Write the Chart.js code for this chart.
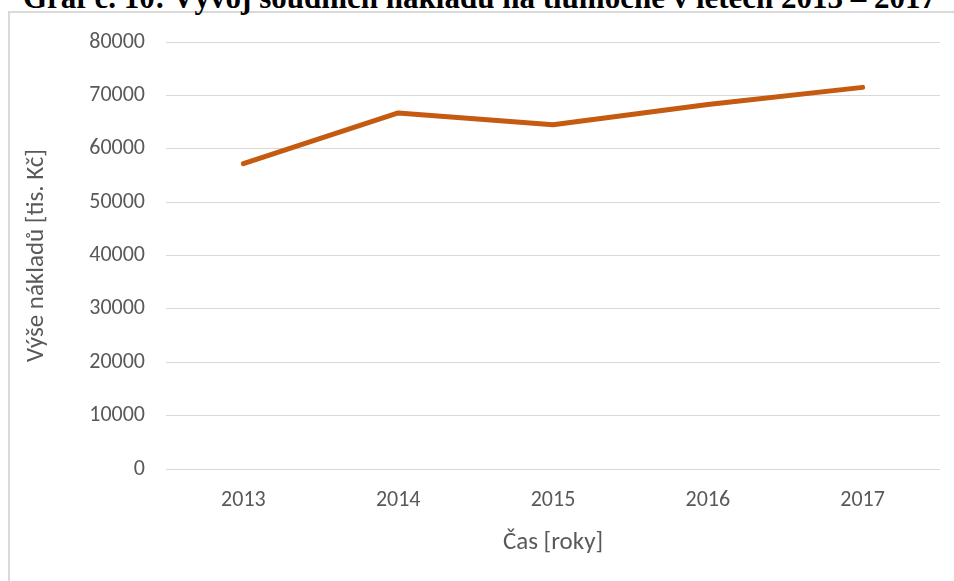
<!DOCTYPE html>
<html>
<head>
<meta charset="utf-8">
<script src="https://cdn.jsdelivr.net/npm/chart.js@4.4.1/dist/chart.umd.min.js"></script>
<style>
  html, body { margin: 0; padding: 0; background: #fff; overflow: hidden; }
  #frame { position: absolute; left: 8px; top: 11px; width: 1000px; height: 700px;
           border-left: 2px solid #d9d9d9; border-top: 2px solid #d9d9d9; }
  #title { position: absolute; left: 23px; top: -18px; white-space: nowrap;
           font-family: 'Liberation Serif', 'Times New Roman', serif; font-weight: bold;
           font-size: 31px; line-height: 31px; color: #000; }
  #wrap { position: absolute; left: 0; top: 0; width: 954px; height: 581px; }
</style>
</head>
<body>
<div id="frame"></div>
<div id="title">Graf č. 10: Vývoj soudních nákladů na tlumočné v letech 2013 – 2017</div>
<div id="wrap"><canvas id="chart"></canvas></div>
<script>
const years = ['2013', '2014', '2015', '2016', '2017'];
const costs = [57200, 66700, 64500, 68300, 71500];
const yTicks = [0, 10000, 20000, 30000, 40000, 50000, 60000, 70000, 80000];

const tickFont = { family: "Carlito, Calibri, Lato, sans-serif", size: 22 };
const titleFont = { family: "Carlito, Calibri, Lato, sans-serif", size: 25 };
const grey = '#595959';

new Chart(document.getElementById('chart'), {
    type: 'line',
    data: {
        labels: years,
        datasets: [{
            label: 'Výše nákladů',
            data: costs,
            borderColor: '#C55A11',
            borderWidth: 5,
            borderCapStyle: 'round',
            borderJoinStyle: 'round',
            pointRadius: 0,
            tension: 0,
            fill: false
        }]
    },
    options: {
        responsive: true,
        maintainAspectRatio: false,
        animation: false,
        layout: { padding: { left: 0, right: 14, top: 42, bottom: 0 } },
        plugins: { legend: { display: false }, tooltip: { enabled: false } },
        scales: {
            x: {
                offset: true,
                grid: { display: false, drawTicks: false },
                border: { display: false },
                ticks: { color: grey, font: tickFont, padding: 18 },
                title: { display: true, text: 'Čas [roky]', color: grey, font: titleFont,
                         padding: { top: 0, bottom: 23 } },
                afterFit: function(scale) { scale.height = 112; }
            },
            y: {
                min: yTicks[0],
                max: yTicks[yTicks.length - 1],
                afterBuildTicks: function(scale) { scale.ticks = yTicks.map(v => ({ value: v })); },
                grid: { color: '#d9d9d9', lineWidth: 1, drawTicks: false },
                border: { display: false },
                ticks: { color: grey, font: tickFont, padding: 21, callback: v => String(v) },
                title: { display: true, text: 'Výše nákladů [tis. Kč]', color: grey, font: titleFont,
                         padding: { top: 22, bottom: 0 } },
                afterFit: function(scale) { scale.width = 166; }
            }
        }
    }
});
</script>
</body>
</html>
